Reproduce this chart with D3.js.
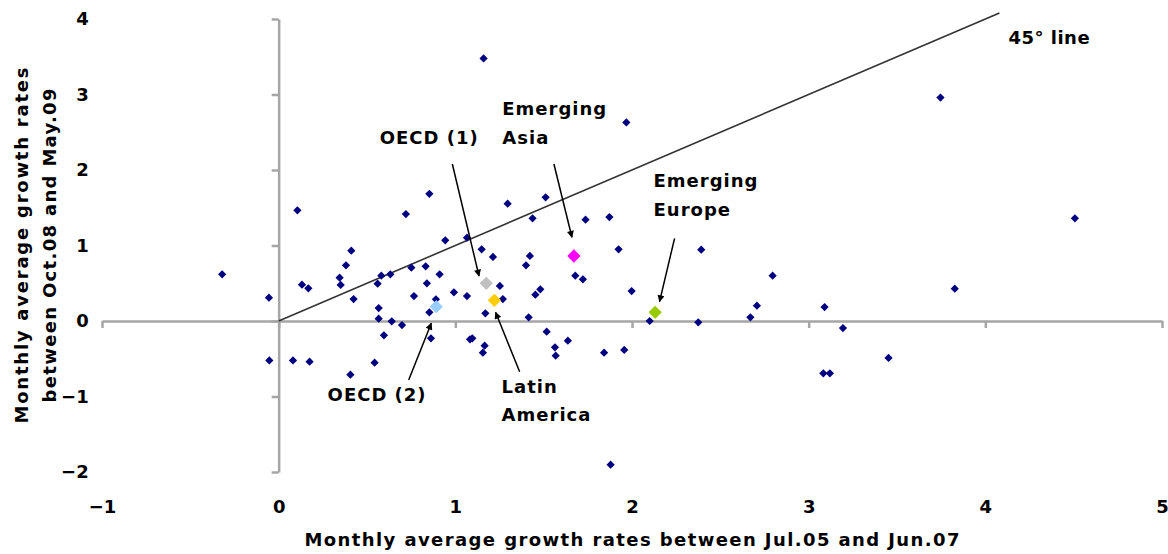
<!DOCTYPE html>
<html>
<head>
<meta charset="utf-8">
<script src="https://cdn.jsdelivr.net/npm/d3@7"></script>
<style>
  html, body { margin: 0; padding: 0; background: #fff; }
  svg { display: block; }
  text { font-family: "DejaVu Sans", Verdana, sans-serif; font-weight: bold; fill: #000; }
</style>
</head>
<body>
<svg id="chart" width="1168" height="554"></svg>
<script>
// ---------- data ----------
const xTicks = [-1, 0, 1, 2, 3, 4, 5];
const yTicks = [-2, -1, 0, 1, 2, 3, 4];
const xTitle = "Monthly average growth rates between Jul.05 and Jun.07";
const yTitleLines = ["Monthly average growth rates", "between Oct.08 and May.09"];

// country points: pre-crisis growth (x) vs crisis growth (y)
const countryX = [
  -0.32, -0.055, 0.106, 0.132, 0.168, 0.411, 0.381, 0.345, 0.351, 0.424,
  0.581, 0.560, 0.632, 0.720, 0.853, 0.751, 0.832, 0.839, 0.911, 0.943,
  1.066, 1.149, 1.213, 0.766, 0.890, 0.992, 1.066, 0.853, 1.170, 0.566,
  0.566, 0.640, 0.698, 0.596, 0.862, 1.083, 1.096, 1.166, 1.156, -0.053,
  0.081, 0.175, 0.543, 0.406, 1.252,
  1.296, 1.511, 1.437, 1.737, 1.872, 1.422, 1.400, 1.924, 2.392, 1.679,
  1.722, 1.269, 1.481, 1.453, 1.998, 1.415, 2.100, 2.375, 1.517, 1.637,
  1.564, 1.568, 1.842, 1.956,
  2.796, 2.707, 2.670, 3.090, 3.194, 3.452, 3.083, 3.120, 3.827, 4.507,
  1.160, 1.968, 3.746, 1.879
];
const countryY = [
  0.619, 0.309, 1.466, 0.481, 0.433, 0.931, 0.738, 0.574, 0.477, 0.291,
  0.600, 0.494, 0.619, 1.417, 1.685, 0.706, 0.725, 0.499, 0.619, 1.069,
  1.103, 0.950, 0.848, 0.331, 0.287, 0.380, 0.331, 0.115, 0.102, 0.172,
  0.030, -0.004, -0.053, -0.189, -0.229, -0.242, -0.229, -0.327, -0.420, -0.522,
  -0.522, -0.539, -0.552, -0.711, 0.464,
  1.554, 1.638, 1.360, 1.342, 1.377, 0.861, 0.738, 0.950, 0.944, 0.600,
  0.552, 0.291, 0.420, 0.348, 0.397, 0.049, 0.000, -0.017, -0.142, -0.261,
  -0.348, -0.460, -0.420, -0.384,
  0.600, 0.203, 0.049, 0.185, -0.093, -0.490, -0.693, -0.693, 0.428, 1.360,
  3.477, 2.630, 2.959, -1.903
];

// regional aggregates
const regionNames = ["OECD (2)", "OECD (1)", "Latin America", "Emerging Asia", "Emerging Europe"];
const regionX = [0.892, 1.175, 1.221, 1.671, 2.131];
const regionY = [0.189, 0.499, 0.274, 0.861, 0.115];
const regionColors = ["#99ccff", "#c0c0c0", "#ffcc00", "#ff00ff", "#99cc00"];

// 45 degree reference line (y = x)
const lineX = [0, 4.08];

// annotation labels (data units: left x, centre y of first line)
const labelLines = [
  ["OECD (2)"], ["OECD (1)"], ["Latin", "America"], ["Emerging", "Asia"], ["Emerging", "Europe"]
];
const labelAtX = [0.277, 0.572, 1.262, 1.266, 2.122];
const labelAtY = [-0.980, 2.428, -0.870, 2.808, 1.858];
// arrows: from (x0,y0) to (x1,y1) in data units
const arrowX0 = [0.736, 0.983, 1.364, 1.558, 2.241];
const arrowY0 = [-0.781, 2.080, -0.672, 2.080, 1.095];
const arrowX1 = [0.864, 1.134, 1.228, 1.660, 2.156];
const arrowY1 = [-0.030, 0.596, 0.115, 1.109, 0.256];
const lineLabel = {text: "45° line", x: 4.131, y: 3.748};

// ---------- chart ----------
const svg = d3.select("#chart");
const x = d3.scaleLinear().domain([-1, 5]).range([102, 1162]);
const y = d3.scaleLinear().domain([-2, 4]).range([472, 19]);
const axisColor = "#a6a6a6";
const fmt = d3.format("d");

svg.append("defs").append("marker")
  .attr("id", "arrow").attr("viewBox", "0 0 10 10")
  .attr("refX", 9).attr("refY", 5)
  .attr("markerWidth", 9).attr("markerHeight", 7)
  .attr("markerUnits", "userSpaceOnUse")
  .attr("orient", "auto")
  .append("path").attr("d", "M0,0 L10,5 L0,10 z").attr("fill", "#000");

// x axis on y = 0
const gx = svg.append("g")
  .attr("transform", `translate(0,${y(0)})`)
  .call(d3.axisBottom(x).tickValues(xTicks).tickFormat(fmt)
    .tickSize(7).tickSizeOuter(0).tickPadding(172));
// y axis on x = 0
const gy = svg.append("g")
  .attr("transform", `translate(${x(0)},0)`)
  .call(d3.axisLeft(y).tickValues(yTicks).tickFormat(fmt)
    .tickSize(7).tickSizeOuter(0).tickPadding(183));

[gx, gy].forEach(g => {
  g.select(".domain").attr("stroke", axisColor).attr("stroke-width", 2.5);
  g.selectAll(".tick line").attr("stroke", axisColor).attr("stroke-width", 2.5);
  g.selectAll(".tick text")
    .attr("fill", "#000")
    .style("font-family", '"DejaVu Sans", Verdana, sans-serif')
    .style("font-weight", "bold")
    .style("font-size", "18px");
});

// 45 degree line
svg.append("line")
  .attr("x1", x(lineX[0])).attr("y1", y(lineX[0]))
  .attr("x2", x(lineX[1])).attr("y2", y(lineX[1]))
  .attr("stroke", "#333").attr("stroke-width", 1.6);

// country points
const diamond = d3.symbol().type(d3.symbolSquare);
svg.append("g").selectAll("path")
  .data(countryX.map((v, i) => [v, countryY[i]]))
  .join("path")
  .attr("d", diamond.size(34)())
  .attr("transform", d => `translate(${x(d[0])},${y(d[1])}) rotate(45)`)
  .attr("fill", "#000080");

// region points
svg.append("g").selectAll("path")
  .data(regionNames.map((n, i) => ({n, x: regionX[i], y: regionY[i], c: regionColors[i]})))
  .join("path")
  .attr("d", diamond.size(88)())
  .attr("transform", d => `translate(${x(d.x)},${y(d.y)}) rotate(45)`)
  .attr("fill", d => d.c);

// arrows
svg.append("g").selectAll("line")
  .data(arrowX0.map((v, i) => i))
  .join("line")
  .attr("x1", i => x(arrowX0[i])).attr("y1", i => y(arrowY0[i]))
  .attr("x2", i => x(arrowX1[i])).attr("y2", i => y(arrowY1[i]))
  .attr("stroke", "#000").attr("stroke-width", 1.5)
  .attr("marker-end", "url(#arrow)");

// labels
const lineGap = 28.5;
labelLines.forEach((lines, i) => {
  lines.forEach((t, j) => {
    svg.append("text")
      .attr("x", x(labelAtX[i]))
      .attr("y", y(labelAtY[i]) + j * lineGap)
      .attr("dy", "0.35em")
      .style("font-size", "18px")
      .style("letter-spacing", "1px")
      .text(t);
  });
});
svg.append("text")
  .attr("x", x(lineLabel.x)).attr("y", y(lineLabel.y)).attr("dy", "0.35em")
  .style("font-size", "18px").style("letter-spacing", "0.5px")
  .text(lineLabel.text);

// axis titles
svg.append("text")
  .attr("x", (x(-1) + x(5)) / 2).attr("y", 540).attr("dy", "0.35em")
  .attr("text-anchor", "middle")
  .style("font-size", "18px")
  .attr("textLength", 655).attr("lengthAdjust", "spacing")
  .text(xTitle);

const yMid = (y(-2) + y(4)) / 2;
const yTitleLen = [356, 314];
const yTitleX = [22, 50];
yTitleLines.forEach((t, j) => {
  svg.append("text")
    .attr("transform", `translate(${yTitleX[j]},${yMid}) rotate(-90)`)
    .attr("text-anchor", "middle").attr("dy", "0.35em")
    .style("font-size", "18px")
    .attr("textLength", yTitleLen[j]).attr("lengthAdjust", "spacing")
    .text(t);
});
</script>
</body>
</html>
